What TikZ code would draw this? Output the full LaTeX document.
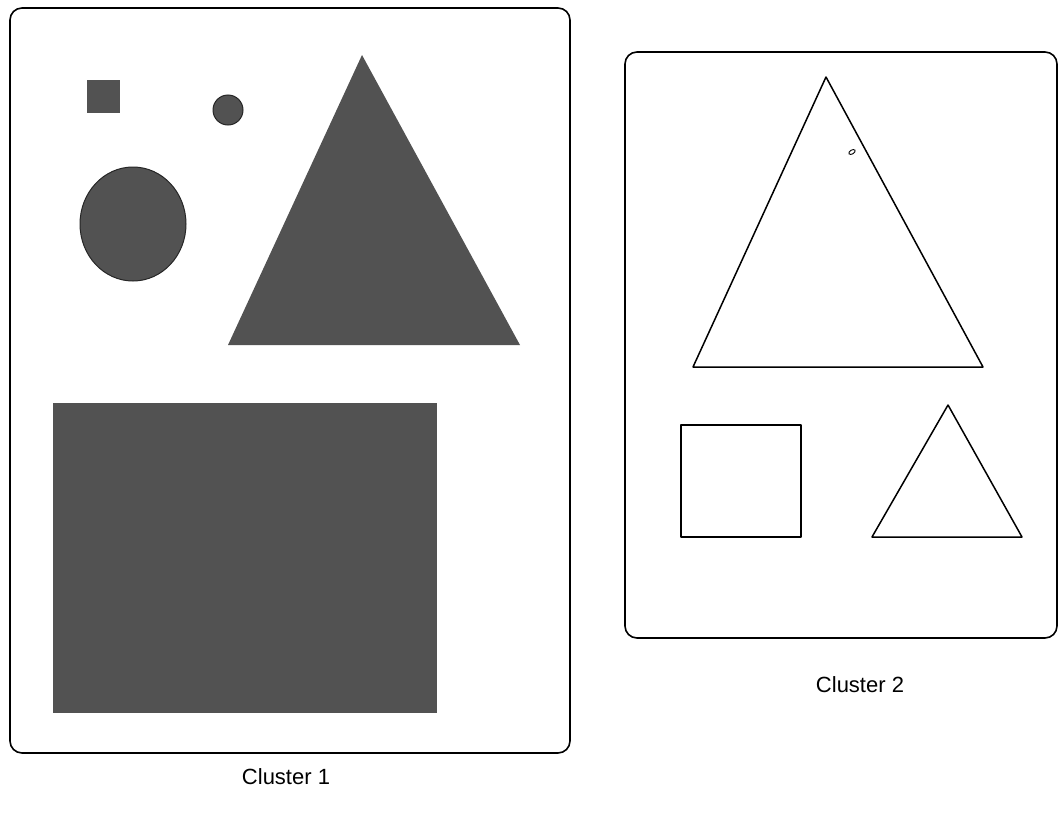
\documentclass[tikz,border=0pt]{standalone}
\usepackage{fontspec}
\setmainfont{Liberation Sans}
\definecolor{shapegray}{HTML}{525252}
\begin{document}
\begin{tikzpicture}[
  x=1pt, y=-1pt,
  frame/.style = {draw=black, line width=1.6pt, rounded corners=12pt},
  solid shape/.style = {fill=shapegray, draw=black!85, line width=1pt},
  open shape/.style = {draw=black, line width=1.5pt, line join=round},
  caption/.style = {font=\fontsize{22}{24}\selectfont}]
  \useasboundingbox (0,0) rectangle (1060,819);

  % zhluk 1
  \draw[frame] (10,8) rectangle (570,753);
  \fill[shapegray] (87,80) rectangle (120,113);
  \draw[solid shape] (228,110) circle (15);
  \draw[solid shape] (133,224) ellipse [x radius=53, y radius=57];
  \coordinate (A1) at (362,55);
  \coordinate (B1) at (228,345);
  \coordinate (C1) at (520,345);
  \fill[shapegray] (A1) -- (B1) -- (C1) -- cycle;
  \fill[shapegray] (53,403) rectangle (437,713);
  \node[caption] (c1) at (286,777) {Cluster 1};

  % zhluk 2
  \draw[frame] (625,52) rectangle (1057,638);
  \coordinate (A2) at (826,77);
  \coordinate (B2) at (693,367);
  \coordinate (C2) at (983,367);
  \draw[open shape] (A2) -- (B2) -- (C2) -- cycle;
  \draw[line width=0.9pt, rotate around={30:(852,152)}] (852,152) ellipse [x radius=3.5, y radius=2];
  \draw[open shape] (681,425) rectangle (801,537);
  \coordinate (A3) at (948,405);
  \coordinate (B3) at (872,537);
  \coordinate (C3) at (1022,537);
  \draw[open shape] (A3) -- (B3) -- (C3) -- cycle;
  \node[caption] (c2) at (860,685) {Cluster 2};

\end{tikzpicture}
\end{document}
